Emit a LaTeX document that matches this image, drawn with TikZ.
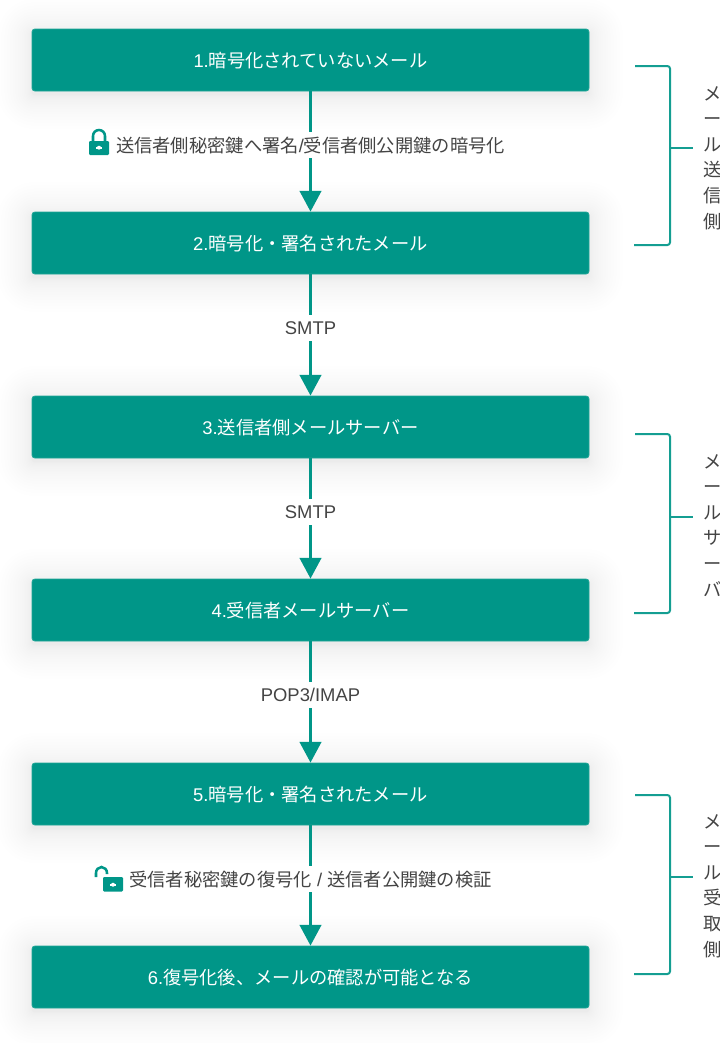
\documentclass[tikz,border=0pt]{standalone}
\usepackage{fontspec}
\setmainfont{Noto Sans CJK JP}
\newfontfamily\latfont{Liberation Sans}
\usetikzlibrary{arrows.meta}
\definecolor{teal}{HTML}{009688}
\definecolor{tealedge}{HTML}{1FA596}
\definecolor{inktext}{HTML}{444444}
\newcommand{\lat}[1]{{\latfont\fontsize{13.8}{16}\selectfont #1}}
\tikzset{
  stepbox/.style={fill=teal,draw=tealedge,line width=0.6pt,rounded corners=2.2pt,minimum width=417.75pt,minimum height=46.5pt,inner sep=0pt,text=white,font=\fontsize{13.7}{16}\selectfont,anchor=center,text height=12.2pt,text depth=1.2pt},
  flow/.style={draw=teal,line width=2.25pt,-{Triangle[width=16pt,length=15.5pt]}},
  edgelabel/.style={fill=white,text=inktext,font=\fontsize{13.7}{16}\selectfont,inner xsep=0pt,inner ysep=0pt,minimum height=19.5pt},
  edgecjk/.style={edgelabel,text height=12.2pt,text depth=1.2pt},
  bracket/.style={draw=teal!92!white,line width=1.5pt,rounded corners=2pt},
  sidenote/.style={text=inktext,font=\fontsize{13.7}{19.2}\selectfont,align=left,inner sep=0pt,anchor=north west,text width=17pt},
  lockbody/.style={fill=teal,rounded corners=0.8pt,draw=none},
  lockarc/.style={draw=teal,line width=1.9pt},
}
\newcommand{\softshadow}[1]{%
  \foreach \k in {1,...,20}{%
    \pgfmathsetmacro{\e}{34*(\k/20)*(\k/20)}%
    \fill[black,opacity=0.0024,rounded corners=\e*0.75pt+2pt]
      ({32-\e},{#1-31-\e+4}) rectangle ({589+\e},{#1+31+\e+4});
  }%
}
\begin{document}
\begin{tikzpicture}[x=0.75pt,y=-0.75pt]
\useasboundingbox (0,0) rectangle (720,1043);
\softshadow{60}\softshadow{243}\softshadow{427}\softshadow{610}\softshadow{794}\softshadow{977}
\node[stepbox] (b1) at (310.5,60) {\lat{1.}暗号化されていないメール};
\node[stepbox] (b2) at (310.5,243) {\lat{2.}暗号化・署名されたメール};
\node[stepbox] (b3) at (310.5,427) {\lat{3.}送信者側メールサーバー};
\node[stepbox] (b4) at (310.5,610) {\lat{4.}受信者メールサーバー};
\node[stepbox] (b5) at (310.5,794) {\lat{5.}暗号化・署名されたメール};
\node[stepbox] (b6) at (310.5,977) {\lat{6.}復号化後、メールの確認が可能となる};
\draw[flow] (b1) -- (b2);
\draw[flow] (b2) -- (b3);
\draw[flow] (b3) -- (b4);
\draw[flow] (b4) -- (b5);
\draw[flow] (b5) -- (b6);
\node[edgecjk] (l1) at (310.5,145) {送信者側秘密鍵へ署名\lat{/}受信者側公開鍵の暗号化};
\node[edgelabel] (l2) at (310.5,328) {\lat{SMTP}};
\node[edgelabel] (l3) at (310.5,512) {\lat{SMTP}};
\node[edgelabel] (l4) at (310.5,695) {\lat{POP3/IMAP}};
\node[edgecjk] (l5) at (310.5,879) {受信者秘密鍵の復号化\lat{ / }送信者公開鍵の検証};
% closed lock
\draw[lockarc] (93,143) -- (93,136) arc[start angle=180,end angle=0,x radius=6,y radius=-6] -- (105,143);
\fill[lockbody] (89,141) rectangle (109,155);
\fill[white] (96,147) rectangle (102,148.5);
\fill[white] (99,147.7) circle[radius=2];
% open lock
\draw[lockarc] (96,877) -- (96,873) arc[start angle=180,end angle=0,x radius=5.5,y radius=-6] -- (107,874);
\fill[lockbody] (103,877) rectangle (123,891.5);
\fill[white] (110,884) rectangle (116,885.5);
\fill[white] (113,884.7) circle[radius=2];
% brackets
\coordinate (t1) at (635,66); \coordinate (t1b) at (634,245); \coordinate (n1) at (693,148);
\draw[bracket] (t1) -- (670,66) -- (670,245) -- (t1b);
\draw[bracket] (670,148) -- (n1);
\node[sidenote] (s1) at (703,86) {メ\\ー\\ル\\送\\信\\側};
\coordinate (t2) at (635,434); \coordinate (t2b) at (634,613); \coordinate (n2) at (693,517);
\draw[bracket] (t2) -- (670,434) -- (670,613) -- (t2b);
\draw[bracket] (670,517) -- (n2);
\node[sidenote] (s2) at (703,454) {メ\\ー\\ル\\サ\\ー\\バ};
\coordinate (t3) at (635,795); \coordinate (t3b) at (634,974); \coordinate (n3) at (693,877);
\draw[bracket] (t3) -- (670,795) -- (670,974) -- (t3b);
\draw[bracket] (670,877) -- (n3);
\node[sidenote] (s3) at (703,814) {メ\\ー\\ル\\受\\取\\側};
\end{tikzpicture}
\end{document}
